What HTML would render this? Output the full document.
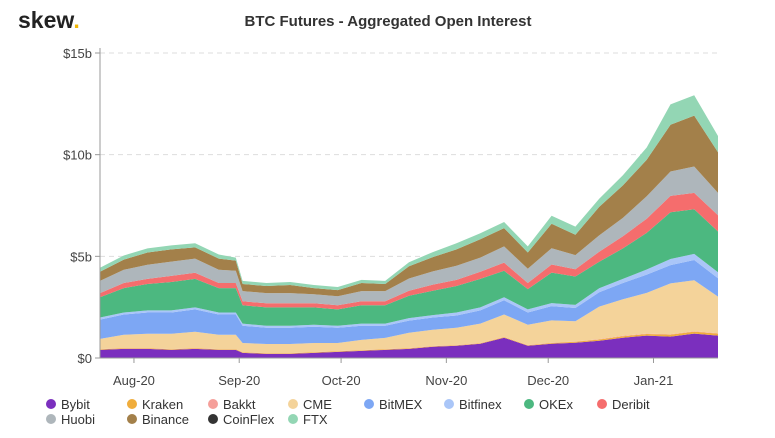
<!DOCTYPE html>
<html><head><meta charset="utf-8"><style>
body{margin:0;background:#fff;font-family:"Liberation Sans",sans-serif;}
svg text{font-family:"Liberation Sans",sans-serif;}
</style></head><body>
<svg id="c" width="775" height="433">
<text x="18" y="28" font-size="23" font-weight="bold" fill="#222">skew<tspan fill="#f2b705">.</tspan></text>
<text x="388" y="26" text-anchor="middle" font-size="15" font-weight="bold" fill="#333">BTC Futures - Aggregated Open Interest</text>
<g id="grid"></g><g id="areas"></g><g id="axes"></g><g id="legend"></g>
</svg>
<script>
const dates=['2020-07-22','2020-07-29','2020-08-05','2020-08-12','2020-08-19','2020-08-26','2020-08-31','2020-09-02','2020-09-09','2020-09-16','2020-09-23','2020-09-30','2020-10-07','2020-10-14','2020-10-21','2020-10-28','2020-11-04','2020-11-11','2020-11-18','2020-11-25','2020-12-02','2020-12-09','2020-12-16','2020-12-23','2020-12-30','2021-01-06','2021-01-13','2021-01-20'];
const bybit=[0.4,0.45,0.45,0.4,0.45,0.4,0.4,0.25,0.2,0.2,0.25,0.3,0.35,0.4,0.45,0.55,0.6,0.7,1.0,0.6,0.7,0.75,0.85,1.0,1.1,1.05,1.2,1.1];
const kraken=[0.03,0.03,0.03,0.03,0.03,0.03,0.03,0.03,0.03,0.03,0.03,0.03,0.03,0.03,0.03,0.03,0.03,0.03,0.03,0.03,0.04,0.05,0.06,0.07,0.08,0.1,0.1,0.1];
const bakkt=[0.01,0.01,0.01,0.01,0.01,0.01,0.01,0.01,0.01,0.01,0.01,0.01,0.01,0.01,0.01,0.01,0.01,0.01,0.01,0.01,0.01,0.01,0.02,0.02,0.02,0.02,0.02,0.02];
const cme=[0.5,0.65,0.7,0.75,0.8,0.7,0.7,0.45,0.45,0.45,0.45,0.4,0.5,0.55,0.75,0.8,0.85,0.95,1.1,1.0,1.1,1.0,1.6,1.8,2.0,2.5,2.5,1.8];
const bitmex=[0.95,1.0,1.05,1.05,1.1,1.0,1.0,0.85,0.8,0.8,0.8,0.75,0.7,0.6,0.6,0.6,0.6,0.65,0.7,0.6,0.7,0.65,0.7,0.8,0.9,0.9,1.0,0.9];
const bitfinex=[0.1,0.1,0.1,0.1,0.1,0.1,0.1,0.1,0.1,0.1,0.1,0.1,0.1,0.1,0.12,0.12,0.15,0.15,0.15,0.15,0.15,0.15,0.2,0.2,0.25,0.3,0.3,0.3];
const okex=[1.0,1.2,1.3,1.4,1.4,1.2,1.2,0.9,0.9,0.9,0.85,0.8,0.9,0.9,1.1,1.2,1.3,1.4,1.3,1.0,1.5,1.4,1.3,1.5,1.8,2.3,2.2,2.0];
const deribit=[0.2,0.25,0.25,0.3,0.3,0.25,0.25,0.2,0.2,0.2,0.2,0.2,0.2,0.2,0.25,0.3,0.3,0.35,0.4,0.3,0.4,0.35,0.5,0.6,0.7,0.8,0.8,0.8];
const huobi=[0.6,0.65,0.7,0.7,0.7,0.65,0.6,0.5,0.5,0.5,0.45,0.45,0.5,0.5,0.6,0.65,0.7,0.7,0.8,0.7,0.8,0.7,0.8,0.9,1.1,1.2,1.3,1.1];
const binance=[0.45,0.5,0.6,0.6,0.55,0.55,0.5,0.35,0.35,0.4,0.3,0.3,0.4,0.35,0.6,0.7,0.8,0.9,0.9,0.8,1.2,1.0,1.4,1.6,1.8,2.3,2.5,2.0];
const coinflex=[0,0,0,0,0,0,0,0,0,0,0,0,0,0,0,0,0,0,0,0,0,0,0,0,0,0,0,0];
const ftx=[0.2,0.2,0.2,0.2,0.2,0.2,0.15,0.15,0.15,0.15,0.15,0.15,0.15,0.15,0.2,0.25,0.3,0.3,0.3,0.3,0.4,0.4,0.4,0.5,0.6,1.0,1.0,0.8];
const seriesNames=['Bybit','Kraken','Bakkt','CME','BitMEX','Bitfinex','OKEx','Deribit','Huobi','Binance','CoinFlex','FTX'];
const yTicks=[0,5,10,15];
const yTickLabels=['$0','$5b','$10b','$15b'];
const xTicks=['2020-08-01','2020-09-01','2020-10-01','2020-11-01','2020-12-01','2021-01-01'];
const xTickLabels=['Aug-20','Sep-20','Oct-20','Nov-20','Dec-20','Jan-21'];

const series=[bybit,kraken,bakkt,cme,bitmex,bitfinex,okex,deribit,huobi,binance,coinflex,ftx];
const colors=['#7b2fbe','#f0ad3c','#f59f9a','#f4d39a','#7da7f4','#aac6f8','#4cb880','#f56d6d','#aeb6bb','#a3804a','#333333','#93d6b4'];
const NS='http://www.w3.org/2000/svg';
const X0=100,X1=718,Y0=358,Y1=53;
const t0=Date.parse(dates[0]),t1=Date.parse(dates[dates.length-1]);
const xs=d=>X0+(Date.parse(d)-t0)/(t1-t0)*(X1-X0);
const ys=v=>Y0-v/15*(Y0-Y1);
function mk(tag,attrs,parent){const e=document.createElementNS(NS,tag);for(const k in attrs)e.setAttribute(k,attrs[k]);parent.appendChild(e);return e;}
const grid=document.getElementById('grid'),areas=document.getElementById('areas'),axes=document.getElementById('axes'),legend=document.getElementById('legend');
yTicks.forEach((v,i)=>{
  if(v>0){const g=mk('line',{x1:X0,x2:X1,y1:ys(v),y2:ys(v),stroke:'#ddd','stroke-dasharray':'5,4'},grid);
  
  }
  const t=mk('text',{x:92,y:ys(v)+5,'text-anchor':'end','font-size':13,fill:'#444'},axes);t.textContent=yTickLabels[i];
  
  
  const tk=mk('line',{x1:95,x2:100,y1:ys(v),y2:ys(v),stroke:'#999'},axes);
  
  
});
let base=dates.map(()=>0);
series.forEach((s,k)=>{
  const top=base.map((b,i)=>b+s[i]);
  let d='M'+dates.map((dt,i)=>xs(dt).toFixed(1)+','+ys(top[i]).toFixed(1)).join('L');
  for(let i=dates.length-1;i>=0;i--)d+='L'+xs(dates[i]).toFixed(1)+','+ys(base[i]).toFixed(1);
  const p=mk('path',{d:d+'Z',fill:colors[k]},areas);
  
  
  base=top;
});
const ax=mk('line',{x1:X0,x2:X0,y1:Y1-5,y2:Y0,stroke:'#999'},axes);


const bx=mk('line',{x1:X0,x2:X1,y1:Y0,y2:Y0,stroke:'#999'},axes);


xTicks.forEach((d,i)=>{
  const tk=mk('line',{x1:xs(d),x2:xs(d),y1:Y0,y2:Y0+5,stroke:'#999'},axes);
  
  
  const t=mk('text',{x:xs(d),y:385,'text-anchor':'middle','font-size':13,fill:'#444'},axes);t.textContent=xTickLabels[i];
  
  
});
const lx=[62,143,224,304,380,460,540,613];
const order=[0,1,2,3,4,5,6,7,8,9,10,11];
order.forEach((k,i)=>{
  const row=i<8?0:1,col=i<8?i:i-8;
  const g=mk('g',{},legend);
  
  
  mk('circle',{cx:lx[col]-11,cy:row?419:404,r:5,fill:colors[k]},g);
  const t=mk('text',{x:lx[col]-1,y:row?424:409,'font-size':13,fill:'#333'},g);t.textContent=seriesNames[k];
});
</script>
</body></html>
